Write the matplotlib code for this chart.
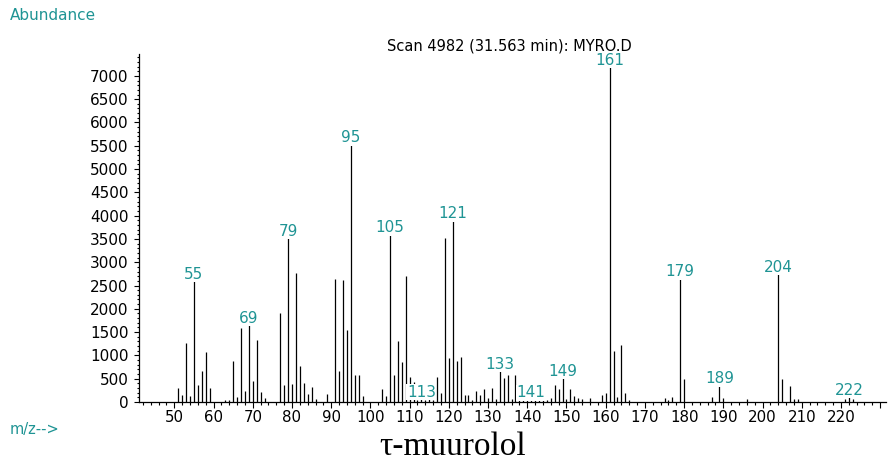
import numpy as np
from matplotlib import pyplot as plt
from matplotlib.ticker import MultipleLocator

# mass spectrum (m/z vs abundance)
mz = [51, 52, 53, 54, 55, 56, 57, 58, 59, 63, 64, 65, 66, 67, 68, 69, 70, 71, 72, 73,
      77, 78, 79, 80, 81, 82, 83, 84, 85, 86, 89, 91, 92, 93, 94, 95, 96, 97, 98,
      103, 104, 105, 106, 107, 108, 109, 110, 111, 112, 113, 114, 115, 116, 117, 118,
      119, 120, 121, 122, 123, 124, 125, 126, 127, 128, 129, 130, 131, 132, 133, 134,
      135, 136, 137, 138, 139, 140, 141, 142, 143, 144, 145, 146, 147, 148, 149, 150,
      151, 152, 153, 154, 156, 159, 160, 161, 162, 163, 164, 165, 166, 175, 176, 177,
      179, 180, 187, 189, 190, 196, 204, 205, 207, 208, 209, 221, 222, 223]
abundance = [305, 160, 1270, 118, 2610, 375, 670, 1063, 290, 50, 40, 870, 97, 1580, 240,
             1665, 440, 1340, 218, 75,
             1905, 355, 3530, 390, 2760, 770, 397, 168, 325, 70, 168, 2640, 655, 2610,
             1550, 5530, 590, 590, 120,
             280, 130, 3600, 590, 1310, 850, 2700, 530, 420, 50, 70, 40, 60, 40, 530, 200,
             3530, 940, 3900, 890, 970, 160, 150, 40, 240, 160, 270, 90, 310, 60, 670, 510,
             570, 60, 570, 60, 320, 70, 60, 70, 50, 40, 50, 90, 370, 280, 520, 70,
             270, 130, 90, 60, 80, 140, 200, 7200, 1100, 115, 1230, 200, 50, 80, 50, 110,
             2660, 490, 105, 360, 85, 70, 2750, 500, 350, 70, 70, 60, 120, 60]
labelled = [55, 69, 79, 95, 105, 113, 121, 133, 141, 149, 161, 179, 189, 204, 222]
xticks = list(range(50, 230, 10))

teal = '#1f9494'

fig = plt.figure(figsize=(8.89, 4.61), dpi=100)
ax = fig.add_axes([0.1564, 0.128, 0.8403, 0.7549])

ax.vlines(mz, 0, abundance, color='black', lw=0.9, zorder=2)

for m in labelled:
    h = abundance[mz.index(m)]
    ax.annotate(str(m), (m, h), xytext=(0, -0.8), textcoords='offset points',
                ha='center', va='bottom', color=teal, fontsize=11, zorder=3,
                bbox=dict(facecolor='white', edgecolor='none', pad=0.3))

ax.set_xlim(41, 231.5)
ax.set_ylim(0, 7470)
ax.set_xticks(xticks + [230])
ax.set_xticklabels([str(t) for t in xticks] + [''])
ax.xaxis.set_minor_locator(MultipleLocator(2))
ax.yaxis.set_major_locator(MultipleLocator(500))
ax.yaxis.set_minor_locator(MultipleLocator(100))

for s in ['top', 'right']:
    ax.spines[s].set_visible(False)
for s in ['left', 'bottom']:
    ax.spines[s].set_linewidth(0.9)

ax.tick_params(axis='x', which='major', length=4.3, width=0.8, pad=1.5, labelsize=10.8)
ax.tick_params(axis='x', which='minor', length=2.2, width=0.8)
ax.tick_params(axis='y', which='major', length=3.6, width=0.8, pad=4, labelsize=11)
ax.tick_params(axis='y', which='minor', length=1.8, width=0.8)

fig.text(10 / 889, 1 - 16 / 461, 'Abundance', color=teal, fontsize=11, ha='left', va='center')
fig.text(10 / 889, 1 - 429 / 461, 'm/z-->', color=teal, fontsize=10.5, ha='left', va='center')
fig.text(509.5 / 889, 1 - 50.5 / 461, 'Scan 4982 (31.563 min): MYRO.D', fontsize=10.5,
         ha='center', va='baseline')
fig.text(453 / 889, 1 - 455 / 461, 'τ-muurolol', fontsize=24, ha='center', va='baseline',
         family=['Liberation Serif', 'DejaVu Serif'])

fig.savefig('out.png', dpi=100)
